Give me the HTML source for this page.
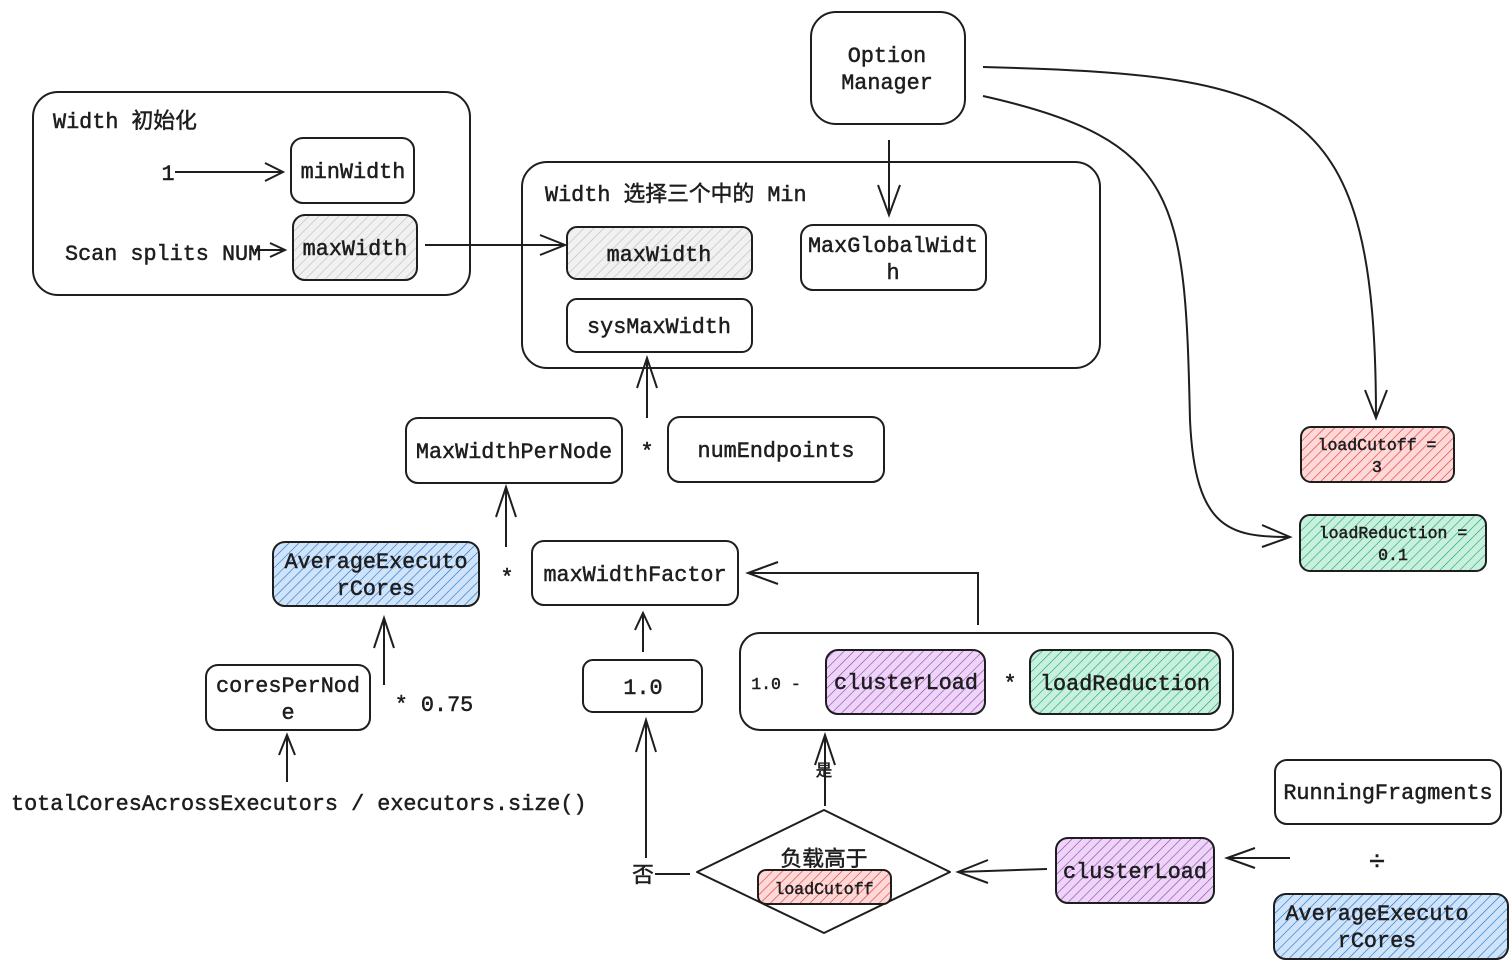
<!DOCTYPE html>
<html><head><meta charset="utf-8"><style>
html,body{margin:0;padding:0;background:#fff;}
svg{display:block;}
text{font-family:"Liberation Mono","Noto Sans CJK SC",monospace;fill:#1e1e1e;stroke:#1e1e1e;stroke-width:0.5;}
</style></head><body>
<svg width="1512" height="970" viewBox="0 0 1512 970" xmlns="http://www.w3.org/2000/svg">
<defs>
<pattern id="hg" width="7" height="7" patternUnits="userSpaceOnUse" patternTransform="rotate(45)"><rect width="7" height="7" fill="#f1f1f1"/><line x1="0" y1="0" x2="0" y2="7" stroke="#bbb" stroke-width="1.2"/></pattern>
<pattern id="hr" width="7" height="7" patternUnits="userSpaceOnUse" patternTransform="rotate(45)"><rect width="7" height="7" fill="#ffd8d8"/><line x1="0" y1="0" x2="0" y2="7" stroke="#e03131" stroke-width="1.2"/></pattern>
<pattern id="hgr" width="7" height="7" patternUnits="userSpaceOnUse" patternTransform="rotate(45)"><rect width="7" height="7" fill="#c9f0dd"/><line x1="0" y1="0" x2="0" y2="7" stroke="#0ca678" stroke-width="1.2"/></pattern>
<pattern id="hb" width="7" height="7" patternUnits="userSpaceOnUse" patternTransform="rotate(45)"><rect width="7" height="7" fill="#cfe3fb"/><line x1="0" y1="0" x2="0" y2="7" stroke="#1971c2" stroke-width="1.2"/></pattern>
<pattern id="hp" width="7" height="7" patternUnits="userSpaceOnUse" patternTransform="rotate(45)"><rect width="7" height="7" fill="#ecd5f7"/><line x1="0" y1="0" x2="0" y2="7" stroke="#9c36b5" stroke-width="1.2"/></pattern>
</defs>
<g fill="none" stroke="#1e1e1e" stroke-width="2">
<rect x="33" y="92" width="437" height="203" rx="25"/>
<rect x="291" y="138" width="123" height="65" rx="12"/>
<rect x="293" y="215" width="124" height="65" rx="12" fill="url(#hg)"/>
<rect x="522" y="162" width="578" height="206" rx="25"/>
<rect x="567" y="227" width="185" height="52" rx="10" fill="url(#hg)"/>
<rect x="801" y="225" width="185" height="65" rx="12"/>
<rect x="567" y="299" width="185" height="53" rx="10"/>
<rect x="811" y="12" width="154" height="112" rx="25"/>
<rect x="1301" y="427" width="153" height="55" rx="10" fill="url(#hr)"/>
<rect x="1300" y="515" width="186" height="56" rx="10" fill="url(#hgr)"/>
<rect x="406" y="418" width="216" height="65" rx="12"/>
<rect x="668" y="417" width="216" height="65" rx="12"/>
<rect x="273" y="542" width="206" height="64" rx="12" fill="url(#hb)"/>
<rect x="532" y="541" width="206" height="64" rx="12"/>
<rect x="583" y="660" width="119" height="52" rx="10"/>
<rect x="740" y="633" width="493" height="97" rx="20"/>
<rect x="826" y="650" width="159" height="64" rx="12" fill="url(#hp)"/>
<rect x="1030" y="650" width="190" height="64" rx="12" fill="url(#hgr)"/>
<rect x="206" y="665" width="164" height="65" rx="12"/>
<path d="M697,872 L824,810 L950,872 L824,933 Z" stroke-linejoin="round"/>
<rect x="758" y="870" width="133" height="34" rx="8" fill="url(#hr)"/>
<rect x="1056" y="838" width="158" height="65" rx="12" fill="url(#hp)"/>
<rect x="1275" y="760" width="226" height="64" rx="12"/>
<rect x="1274" y="894" width="234" height="65" rx="12" fill="url(#hb)"/>
<path d="M175,172 L283,172 M265,163 L283,172 L265,181"/>
<path d="M255,250 L285,250 M270,243 L285,250 L270,257"/>
<path d="M425,245 L565,245 M540,235 L565,245 L540,255"/>
<path d="M889,140 L889,215 M878,185 L889,215 L900,185"/>
<path d="M983,67 C1300,75 1376,100 1376,418 M1365,390 L1376,418 L1387,390"/>
<path d="M983,96 C1180,140 1185,200 1190,420 C1195,530 1230,537 1290,537 M1262,525 L1290,537 L1262,547"/>
<path d="M647,418 L647,358 M637,388 L647,358 L657,388"/>
<path d="M506,547 L506,487 M496,517 L506,487 L516,517"/>
<path d="M978,625 L978,573 L748,573 M778,562 L748,573 L778,584"/>
<path d="M643,652 L643,613 M635,630 L643,613 L651,630"/>
<path d="M384,685 L384,618 M374,648 L384,618 L394,648"/>
<path d="M287,782 L287,735 M279,755 L287,735 L295,755"/>
<path d="M646,858 L646,720 M636,752 L646,720 L656,752"/>
<path d="M655,874 L690,874"/>
<path d="M825,806 L825,735 M815,765 L825,735 L835,765"/>
<path d="M1047,869 L958,872 M988,860 L958,872 L988,883"/>
<path d="M1290,858 L1227,858 M1255,848 L1227,858 L1255,868"/>
</g>
<g font-size="21.8" text-anchor="middle">
<text x="53" y="128" text-anchor="start">Width 初始化</text>
<text x="168" y="180">1</text>
<text x="353" y="178">minWidth</text>
<text x="65" y="260" text-anchor="start">Scan splits NUM</text>
<text x="355" y="255">maxWidth</text>
<text x="545" y="201" text-anchor="start">Width 选择三个中的 Min</text>
<text x="659" y="261">maxWidth</text>
<text x="893" y="252">MaxGlobalWidt</text>
<text x="893" y="279">h</text>
<text x="659" y="333">sysMaxWidth</text>
<text x="887" y="62">Option</text>
<text x="887" y="89">Manager</text>
<text x="514" y="458">MaxWidthPerNode</text>
<text x="647" y="458">*</text>
<text x="776" y="457">numEndpoints</text>
<text x="376" y="568">AverageExecuto</text>
<text x="376" y="595">rCores</text>
<text x="507" y="584">*</text>
<text x="635" y="581">maxWidthFactor</text>
<text x="643" y="694">1.0</text>
<text x="906" y="689">clusterLoad</text>
<text x="1010" y="690">*</text>
<text x="1125" y="690">loadReduction</text>
<text x="288" y="692">coresPerNod</text>
<text x="288" y="719">e</text>
<text x="434" y="711">* 0.75</text>
<text x="11" y="810" text-anchor="start">totalCoresAcrossExecutors / executors.size()</text>
<text x="824" y="866">负载高于</text>
<text x="1135" y="878">clusterLoad</text>
<text x="1388" y="799">RunningFragments</text>
<text x="1377" y="870" font-size="28">÷</text>
<text x="1377" y="920">AverageExecuto</text>
<text x="1377" y="947">rCores</text>
<text x="643" y="882">否</text>
</g>
<g font-size="16.5" text-anchor="middle">
<text x="1377" y="450">loadCutoff =</text>
<text x="1377" y="472">3</text>
<text x="1393" y="538">loadReduction =</text>
<text x="1393" y="560">0.1</text>
<text x="776" y="689">1.0 -</text>
<text x="824" y="894">loadCutoff</text>
<text x="824" y="776">是</text>
</g>
</svg>
</body></html>
